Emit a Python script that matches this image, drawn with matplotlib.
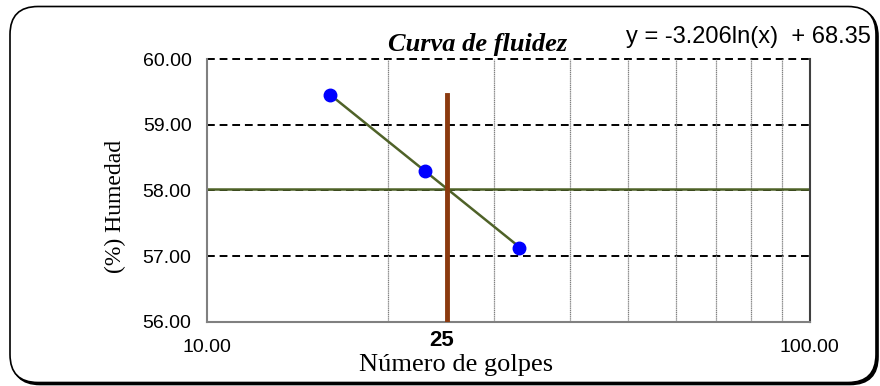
import matplotlib.pyplot as plt
import numpy as np
from matplotlib.patches import FancyBboxPatch
from matplotlib.ticker import FixedLocator, FuncFormatter, NullFormatter

# data
golpes = [16, 23, 33]
humedad = [59.45, 58.30, 57.13]
coef_a = -3.206
coef_b = 68.35
n_ref = 25
ll = coef_a * np.log(n_ref) + coef_b
y_ticks = [56.0, 57.0, 58.0, 59.0, 60.0]
x_ticks = [10, 100]
x_minor = [20, 30, 40, 50, 60, 70, 80, 90]

sans = 'Liberation Sans'
serif = 'Liberation Serif'

fig = plt.figure(figsize=(8.8, 3.86), dpi=100)
ax = fig.add_axes([0.235, 0.166, 0.685, 0.681])

# rounded frame with shadow
shadow = FancyBboxPatch((0.12, 0.015), 8.66, 3.76, boxstyle='round,pad=0,rounding_size=0.28',
                        transform=fig.dpi_scale_trans, facecolor='black', edgecolor='black', lw=1.2,
                        zorder=-2)
frame = FancyBboxPatch((0.10, 0.035), 8.66, 3.76, boxstyle='round,pad=0,rounding_size=0.28',
                       transform=fig.dpi_scale_trans, facecolor='white', edgecolor='black', lw=1.2,
                       zorder=-1)
fig.patches.append(shadow)
fig.patches.append(frame)

ax.set_xscale('log')
ax.set_xlim(10, 100)
ax.set_ylim(56, 60)

# grid
for yv in y_ticks[1:]:
    ax.axhline(yv, color='black', ls=(0, (4, 2.5)), lw=1.4, zorder=1, clip_on=False)
for xv in x_minor:
    ax.axvline(xv, color='#808080', ls=(0, (1, 0.5)), lw=0.9, zorder=1)

# trend line over data span
xs = np.array([golpes[0], golpes[-1]])
ax.plot(xs, coef_a * np.log(xs) + coef_b, color='#4F6228', lw=1.8, zorder=3)
ax.axhline(ll, color='#4F6228', lw=1.8, zorder=2)
ax.plot([n_ref, n_ref], [56, max(humedad)], color='#8B3A0F', lw=3.5, zorder=4)
ax.plot(golpes, humedad, 'o', color='#0000FF', ms=9, zorder=5)

ax.xaxis.set_major_locator(FixedLocator(x_ticks))
ax.xaxis.set_minor_locator(FixedLocator(x_minor))
ax.xaxis.set_major_formatter(FuncFormatter(lambda v, p: '%.2f' % v))
ax.xaxis.set_minor_formatter(NullFormatter())
ax.set_yticks(y_ticks)
ax.yaxis.set_major_formatter(FuncFormatter(lambda v, p: '%.2f' % v))
ax.tick_params(which='both', length=0)
ax.tick_params(axis='y', pad=11, labelsize=14)
ax.tick_params(axis='x', pad=12, labelsize=14)
for lab in ax.get_xticklabels() + ax.get_yticklabels():
    lab.set_family(sans)

for s in ['left', 'bottom']:
    ax.spines[s].set_color('#808080')
    ax.spines[s].set_linewidth(1.5)
ax.spines['right'].set_color('#404040')
ax.spines['right'].set_linewidth(1.5)
ax.spines['top'].set_visible(False)

fig.text(442 / 880, 1 - 341 / 386, '25', ha='center', va='center', fontsize=16,
         fontweight='bold', family=sans)
fig.text(456 / 880, 1 - 365 / 386, 'Número de golpes', family=serif, fontsize=19,
         ha='center', va='center')
fig.text(115 / 880, 1 - 206 / 386, '(%) Humedad', family=serif, fontsize=17,
         ha='center', va='center', rotation=90)

fig.text(478 / 880, 1 - 44 / 386, 'Curva de fluidez', family=serif, fontsize=19, fontweight='bold',
         style='italic', ha='center', va='center')
fig.text(748 / 880, 1 - 37 / 386, 'y = -3.206ln(x)  + 68.35', family=sans, fontsize=17,
         ha='center', va='center')

fig.savefig('out.png', dpi=100)
